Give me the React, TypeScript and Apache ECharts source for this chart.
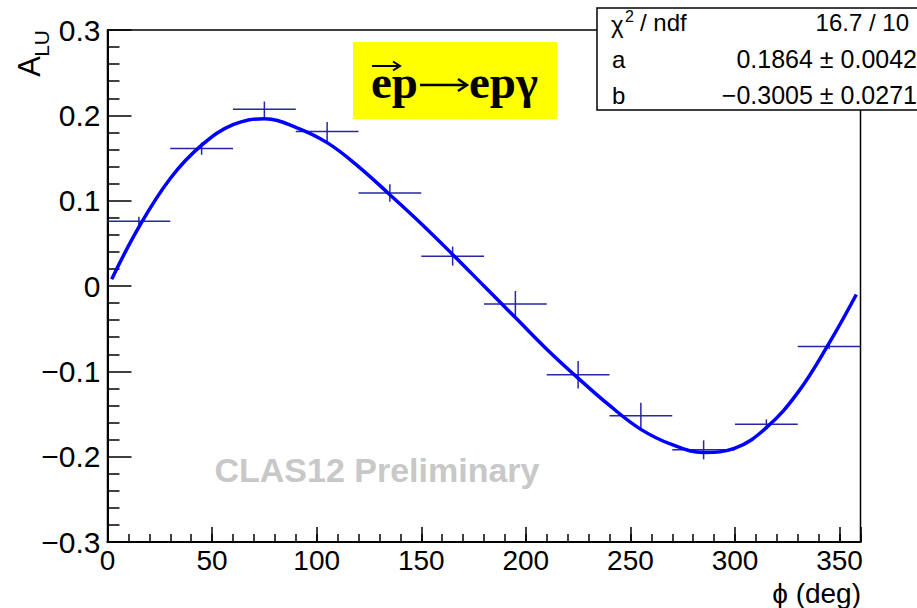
import React, { useEffect, useRef } from 'react';
import * as echarts from 'echarts';

// Measured asymmetry per phi bin
const phiCenters = [15, 45, 75, 105, 135, 165, 195, 225, 255, 285, 315, 345];
const aluValues = [0.076, 0.161, 0.207, 0.181, 0.109, 0.035, -0.021, -0.104, -0.152, -0.192, -0.162, -0.071];
const aluErrors = [0.004, 0.006, 0.008, 0.010, 0.009, 0.010, 0.014, 0.015, 0.014, 0.010, 0.0045, 0.002];
const binHalfWidths = [15, 15, 15, 15, 15, 15, 15, 15, 15, 15, 15, 15];

// Fit curve
const fitPhi = [2, 15, 30, 45, 60, 75, 90, 105, 120, 135, 150, 165, 180, 195, 210, 225, 240, 255, 270, 285, 300, 315, 330, 345, 358];
const fitValues = [0.008, 0.069, 0.126, 0.165, 0.189, 0.196, 0.186, 0.168, 0.140, 0.107, 0.073, 0.037, 0.0, -0.037, -0.074, -0.108, -0.140, -0.168, -0.186, -0.195, -0.190, -0.166, -0.125, -0.067, -0.010];

const xTickLabels = ['0', '50', '100', '150', '200', '250', '300', '350'];
const yTickLabels = ['\u22120.3', '\u22120.2', '\u22120.1', '0', '0.1', '0.2', '0.3'];

const statsNames = ['a', 'b'];
const statsValues = ['0.1864 \u00b1 0.0042', '\u22120.3005 \u00b1 0.0271'];
const chi2Text = '16.7 / 10';

const FONT = '"Liberation Sans", Arial, Helvetica, sans-serif';
const SERIF = '"Liberation Serif", "Times New Roman", serif';
const BAR_COLOR = '#2626a6';

export default function App() {
  const ref = useRef<HTMLDivElement>(null);
  useEffect(() => {
    if (!ref.current) return;
    const chart = echarts.init(ref.current, null, { renderer: 'svg' });
    const option: any = {
      animation: false,
      backgroundColor: '#ffffff',
      grid: {
        left: 107.5, right: 56.5, top: 30, bottom: 66,
        show: true, borderColor: '#000', borderWidth: 1.5, backgroundColor: 'transparent',
      },
      xAxis: [
        {
          type: 'value', min: 0, max: 360, interval: 50, position: 'bottom',
          axisLine: { show: true, onZero: false, lineStyle: { color: '#000', width: 2 } },
          axisTick: { show: true, inside: true, length: 15, lineStyle: { color: '#000', width: 1.5 } },
          minorTick: { show: false },
          splitLine: { show: false },
          axisLabel: {
            show: true, margin: 4, color: '#000', fontFamily: FONT, fontSize: 28,
            formatter: (v: number, i: number) => xTickLabels[i] ?? '',
          },
        },
        {
          type: 'value', min: 0, max: 360, interval: 10, position: 'bottom',
          axisLine: { show: false, onZero: false },
          axisTick: { show: true, inside: true, length: 8, lineStyle: { color: '#000', width: 1.5 } },
          splitLine: { show: false },
          axisLabel: { show: false },
        },
      ],
      yAxis: {
        type: 'value', min: -0.3, max: 0.3, interval: 0.1,
        axisLine: { show: true, onZero: false, lineStyle: { color: '#000', width: 2 } },
        axisTick: { show: true, inside: true, length: 24, lineStyle: { color: '#000', width: 1.5 } },
        minorTick: { show: true, splitNumber: 5, length: 12, lineStyle: { color: '#000', width: 1.5 } },
        splitLine: { show: false },
        axisLabel: {
          show: true, margin: 7, color: '#000', fontFamily: FONT, fontSize: 30,
          formatter: (v: number, i: number) => yTickLabels[i] ?? '',
        },
      },
      series: [
        {
          type: 'custom',
          xAxisIndex: 0, yAxisIndex: 0,
          z: 2,
          data: phiCenters.map((p, i) => [p, aluValues[i], aluErrors[i], binHalfWidths[i]]),
          encode: { x: 0, y: 1 },
          renderItem: (params: any, api: any) => {
            const x = api.value(0), y = api.value(1), e = api.value(2), hw = api.value(3);
            const l = api.coord([x - hw, y]);
            const r = api.coord([x + hw, y]);
            const t = api.coord([x, y + e]);
            const b = api.coord([x, y - e]);
            const style = { stroke: BAR_COLOR, lineWidth: 1.5 };
            return {
              type: 'group',
              children: [
                { type: 'line', shape: { x1: l[0], y1: l[1], x2: r[0], y2: r[1] }, style },
                { type: 'line', shape: { x1: t[0], y1: t[1] - 1, x2: b[0], y2: b[1] + 1 }, style },
              ],
            };
          },
        },
        {
          type: 'line',
          xAxisIndex: 0, yAxisIndex: 0,
          z: 3,
          data: fitPhi.map((p, i) => [p, fitValues[i]]),
          smooth: 0.4,
          symbol: 'none',
          lineStyle: { color: '#0000ff', width: 3.5 },
        },
      ],
      graphic: [
        // Y axis title A_LU (rotated)
        {
          type: 'group', x: 0, y: 30, rotation: Math.PI / 2,
          children: [
            { type: 'text', x: 0, y: 41, style: { text: 'LU', fontFamily: FONT, fontSize: 21, fill: '#000', align: 'right', verticalAlign: 'middle' } },
            { type: 'text', x: -26, y: 29, style: { text: 'A', fontFamily: FONT, fontSize: 31, fill: '#000', align: 'right', verticalAlign: 'middle' } },
          ],
        },
        // X axis title
        { type: 'text', x: 861, y: 593, style: { text: '\u03d5 (deg)', fontFamily: FONT, fontSize: 28, fill: '#000', align: 'right', verticalAlign: 'middle' } },
        // Watermark
        { type: 'text', x: 377, y: 470, style: { text: 'CLAS12 Preliminary', fontFamily: FONT, fontWeight: 'bold', fontSize: 34, fill: '#c8c8c8', align: 'center', verticalAlign: 'middle' } },
        // Reaction label
        { type: 'rect', shape: { x: 353, y: 42, width: 204, height: 77 }, style: { fill: '#ffff00' }, z: 10 },
        { type: 'text', x: 371, y: 82, z: 11, style: { text: 'ep', fontFamily: SERIF, fontWeight: 'bold', fontSize: 47, fill: '#000', align: 'left', verticalAlign: 'middle' } },
        { type: 'line', z: 11, shape: { x1: 420, y1: 85, x2: 466, y2: 85 }, style: { stroke: '#000', lineWidth: 2.5 } },
        { type: 'polyline', z: 11, shape: { points: [[458, 79], [467, 85], [458, 91]] }, style: { stroke: '#000', lineWidth: 2.5, fill: null } },
        { type: 'text', x: 469, y: 82, z: 11, style: { text: 'ep\u03b3', fontFamily: SERIF, fontWeight: 'bold', fontSize: 47, fill: '#000', align: 'left', verticalAlign: 'middle' } },
        { type: 'line', z: 11, shape: { x1: 372, y1: 66, x2: 398, y2: 66 }, style: { stroke: '#000', lineWidth: 2 } },
        { type: 'polyline', z: 11, shape: { points: [[393, 61.5], [400, 66], [393, 70.5]] }, style: { stroke: '#000', lineWidth: 2, fill: null } },
        // Stats box
        { type: 'rect', z: 20, shape: { x: 597, y: 8, width: 340, height: 102 }, style: { fill: '#fff', stroke: '#000', lineWidth: 1.5 } },
        { type: 'text', z: 21, x: 611, y: 24, style: { text: '\u03c7', fontFamily: FONT, fontSize: 24, fill: '#000', align: 'left', verticalAlign: 'middle' } },
        { type: 'text', z: 21, x: 625, y: 16, style: { text: '2', fontFamily: FONT, fontSize: 16, fill: '#000', align: 'left', verticalAlign: 'middle' } },
        { type: 'text', z: 21, x: 640, y: 22, style: { text: '/ ndf', fontFamily: FONT, fontSize: 24, fill: '#000', align: 'left', verticalAlign: 'middle' } },
        { type: 'text', z: 21, x: 909, y: 22, style: { text: chi2Text, fontFamily: FONT, fontSize: 24, fill: '#000', align: 'right', verticalAlign: 'middle' } },
        ...statsNames.map((n, i) => ({ type: 'text', z: 21, x: 612, y: 59 + i * 36, style: { text: n, fontFamily: FONT, fontSize: 24, fill: '#000', align: 'left', verticalAlign: 'middle' } })),
        ...statsValues.map((v, i) => ({ type: 'text', z: 21, x: 917, y: 59 + i * 36, style: { text: v, fontFamily: FONT, fontSize: 25, fill: '#000', align: 'right', verticalAlign: 'middle' } })),
      ],
    };
    chart.setOption(option);
    return () => chart.dispose();
  }, []);
  return <div ref={ref} style={{ position: 'absolute', left: 0, top: 0, width: 917, height: 608 }} />;
}
